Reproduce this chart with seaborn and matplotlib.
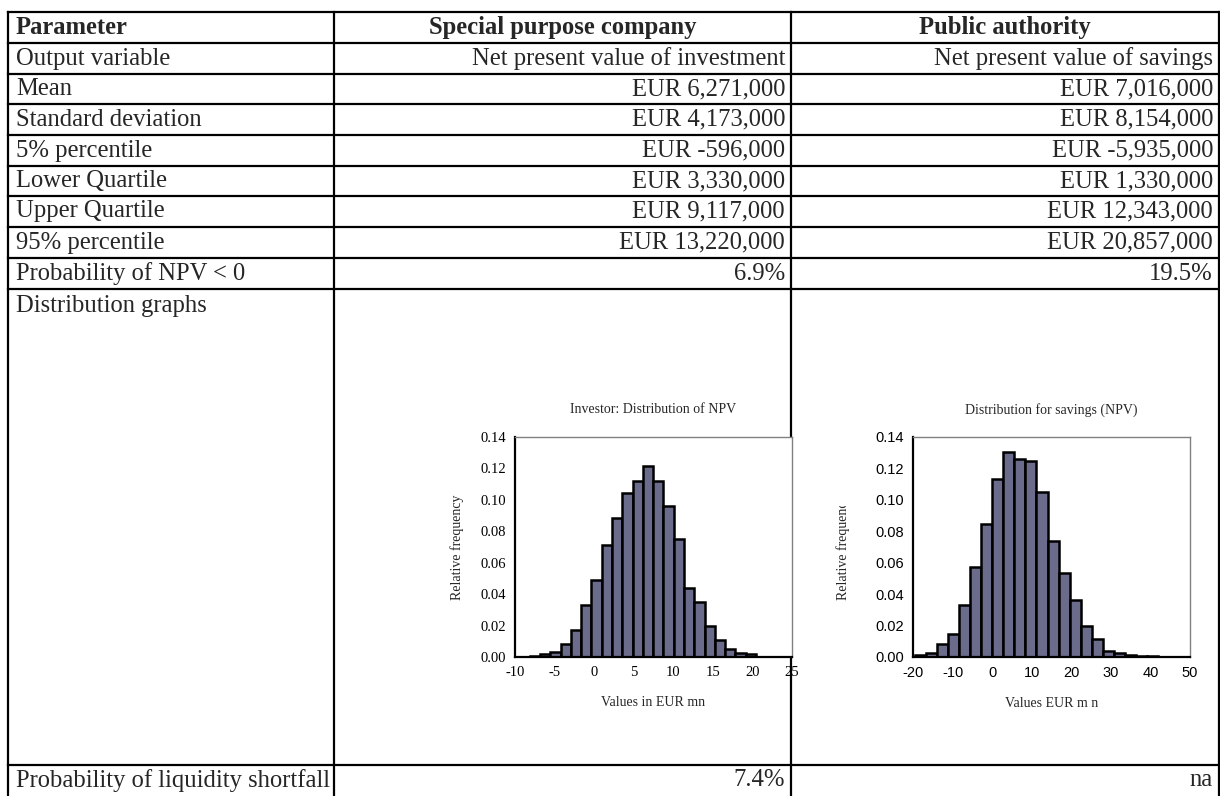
import matplotlib
matplotlib.use('Agg')
import matplotlib.pyplot as plt
import numpy as np
import pandas as pd
import seaborn as sns
from matplotlib.transforms import Bbox, TransformedBbox

# table content
headers = ['Parameter', 'Special purpose company', 'Public authority']
params = ['Output variable', 'Mean', 'Standard deviation', '5% percentile',
          'Lower Quartile', 'Upper Quartile', '95% percentile',
          'Probability of NPV < 0', 'Distribution graphs',
          'Probability of liquidity shortfall']
spc_vals = ['Net present value of investment', 'EUR 6,271,000', 'EUR 4,173,000',
            'EUR -596,000', 'EUR 3,330,000', 'EUR 9,117,000', 'EUR 13,220,000',
            '6.9%', '', '7.4%']
pa_vals = ['Net present value of savings', 'EUR 7,016,000', 'EUR 8,154,000',
           'EUR -5,935,000', 'EUR 1,330,000', 'EUR 12,343,000', 'EUR 20,857,000',
           '19.5%', '', 'na']

# histogram data (relative frequency per bin)
inv_start, inv_width = -8.15, 1.3
inv_freq = [0.0005, 0.0016, 0.0035, 0.008, 0.017, 0.033, 0.049, 0.071, 0.0885,
            0.1046, 0.112, 0.1217, 0.1117, 0.096, 0.075, 0.044, 0.035, 0.0195,
            0.011, 0.0054, 0.0028, 0.0016]
sav_start, sav_width = -19.6, 2.8
sav_freq = [0.001, 0.0023, 0.008, 0.0145, 0.033, 0.057, 0.0848, 0.113, 0.1306,
            0.126, 0.125, 0.105, 0.0738, 0.0536, 0.0363, 0.0198, 0.0117, 0.0041,
            0.0023, 0.0014, 0.0007, 0.0007]

sns.set_style('white')
plt.rcParams['font.family'] = ['Liberation Serif', 'DejaVu Serif']
plt.rcParams['axes.unicode_minus'] = False

W, H = 1220, 796
fig = plt.figure(figsize=(W / 100, H / 100), dpi=100)

# background axes in pixel coords for the table
bg = fig.add_axes([0, 0, 1, 1])
bg.set_xlim(0, W)
bg.set_ylim(H, 0)
bg.axis('off')

row_lines = [12, 43, 74, 104, 135, 166, 196, 227, 258, 289, 765]
col_lines = [8, 334, 791, 1219]
for y in row_lines:
    bg.plot([col_lines[0], col_lines[-1]], [y, y], color='black', lw=1.6, solid_capstyle='projecting')
for x in col_lines:
    bg.plot([x, x], [row_lines[0], H + 5], color='black', lw=1.6, solid_capstyle='projecting')

fs = 17.7
hy = (row_lines[0] + row_lines[1]) / 2
bg.text(16, hy, headers[0], fontsize=fs, fontweight='bold', va='center', ha='left')
bg.text((col_lines[1] + col_lines[2]) / 2, hy, headers[1], fontsize=fs, fontweight='bold', va='center', ha='center')
bg.text((col_lines[2] + col_lines[3]) / 2, hy, headers[2], fontsize=fs, fontweight='bold', va='center', ha='center')

bounds = row_lines[1:] + [H]
for i, p in enumerate(params):
    top, bot = bounds[i], bounds[i + 1]
    yc = (top + bot) / 2 if p != 'Distribution graphs' else top + 17
    bg.text(16, yc, p, fontsize=fs, va='center', ha='left')
    bg.text(col_lines[2] - 6, yc, spc_vals[i], fontsize=fs, va='center', ha='right')
    bg.text(col_lines[3] - 6, yc, pa_vals[i], fontsize=fs, va='center', ha='right')


def hist_panel(rect, start, width, freq, xlim, xticks, title, xlabel, tick_font, ypad, clip_top=None):
    ax = fig.add_axes([rect[0] / W, 1 - rect[3] / H, (rect[2] - rect[0]) / W, (rect[3] - rect[1]) / H])
    edges = [start + width * k for k in range(len(freq) + 1)]
    df = pd.DataFrame({'x': [e + width / 2 for e in edges[:-1]], 'f': freq})
    sns.histplot(data=df, x='x', weights='f', bins=edges, ax=ax,
                 color='#6b6b8c', edgecolor='black', linewidth=1.8, alpha=1)
    ax.set_xlim(*xlim)
    ax.set_ylim(0, 0.14)
    ax.set_xticks(xticks)
    yt = [0, 0.02, 0.04, 0.06, 0.08, 0.10, 0.12, 0.14]
    ax.set_yticks(yt)
    ax.set_yticklabels(['%.2f' % v for v in yt])
    for s in ['left', 'bottom']:
        ax.spines[s].set_color('black')
        ax.spines[s].set_linewidth(1.6)
    for s in ['top', 'right']:
        ax.spines[s].set_color('#808080')
        ax.spines[s].set_linewidth(1.0)
    ax.tick_params(direction='inout', length=7, width=1.4, colors='black', pad=3)
    for lab in ax.get_xticklabels() + ax.get_yticklabels():
        lab.set_family(tick_font)
        lab.set_fontsize(10.5)
    ax.set_xlabel(xlabel, fontsize=10, labelpad=12)
    ax.set_ylabel('Relative frequency', fontsize=10, labelpad=ypad)
    ax.set_title(title, fontsize=10, pad=17)
    if clip_top is not None:
        lab = ax.yaxis.label
        lab.set_clip_on(True)
        lab.set_clip_box(TransformedBbox(Bbox([[0, 0], [1, 1 - clip_top / H]]), fig.transFigure))
    return ax


hist_panel((515, 437, 792, 657), inv_start, inv_width, inv_freq, (-10, 25),
           [-10, -5, 0, 5, 10, 15, 20, 25], 'Investor: Distribution of NPV',
           'Values in EUR mn', ['Liberation Serif'], 12)
hist_panel((913, 437, 1190, 657), sav_start, sav_width, sav_freq, (-20, 50),
           [-20, -10, 0, 10, 20, 30, 40, 50], 'Distribution for savings (NPV)',
           'Values EUR m n', ['Liberation Sans'], 18, clip_top=506)

fig.savefig('out.png', dpi=100)
